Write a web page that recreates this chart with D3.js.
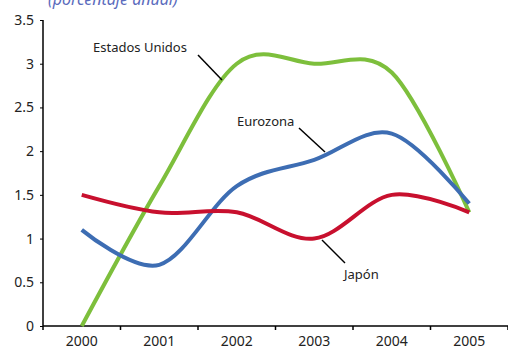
<!DOCTYPE html>
<html>
<head>
<meta charset="utf-8">
<script src="https://cdn.jsdelivr.net/npm/d3@7"></script>
<style>
  body { margin: 0; background: #fff; }
  svg text { font-family: "Noto Sans", sans-serif; fill: #222; }
</style>
</head>
<body>
<svg id="chart" width="508" height="353"></svg>
<script>
const years = ['2000', '2001', '2002', '2003', '2004', '2005'];
const yTicks = [0, 0.5, 1, 1.5, 2, 2.5, 3, 3.5];

const estadosUnidos = [0, 1.6, 3.0, 3.0, 2.9, 1.3];
const eurozona = [1.1, 0.7, 1.6, 1.9, 2.2, 1.4];
const japon = [1.5, 1.3, 1.3, 1.0, 1.5, 1.3];

const series = [
  { name: 'Estados Unidos', values: estadosUnidos, color: '#7dbf3c' },
  { name: 'Eurozona', values: eurozona, color: '#3d6db3' },
  { name: 'Japón', values: japon, color: '#c8102e' }
];

const svg = d3.select('#chart');
const margin = { left: 43, top: 20, right: 0, bottom: 27 };
const width = +svg.attr('width');
const height = +svg.attr('height');

const x = d3.scaleBand()
  .domain(years)
  .range([margin.left, width - margin.right]);

const y = d3.scaleLinear()
  .domain([0, 3.5])
  .range([height - margin.bottom, margin.top]);

// title, mostly clipped at the top (as in the original)
svg.append('text')
  .attr('x', 48)
  .attr('y', 5)
  .attr('font-size', 16)
  .attr('font-style', 'italic')
  .style('fill', '#5b6bbd')
  .text('(porcentaje anual)');

// y axis
const yAxis = svg.append('g')
  .attr('transform', `translate(${margin.left},0)`)
  .call(d3.axisLeft(y).tickValues(yTicks).tickSize(3).tickPadding(6).tickFormat(d3.format('')));
yAxis.select('.domain').attr('stroke-width', 1.5).attr('d', `M0,${y(0)}V${y(3.5)}`);
yAxis.selectAll('text').attr('font-size', 14).style('font-family', '"Noto Sans", sans-serif');

// x axis
const xAxis = svg.append('g')
  .attr('transform', `translate(0,${y(0)})`)
  .call(d3.axisBottom(x).tickSize(0).tickPadding(10));
xAxis.select('.domain').attr('stroke-width', 1.5).attr('d', `M${margin.left},0H${width}`);
xAxis.selectAll('text').attr('font-size', 14).style('font-family', '"Noto Sans", sans-serif');
xAxis.selectAll('.sep')
  .data(years.map(d => x(d)).concat([x(years[5]) + x.bandwidth()]))
  .enter().append('line')
  .attr('x1', d => d).attr('x2', d => d)
  .attr('y1', 0).attr('y2', 4)
  .attr('stroke', '#000').attr('stroke-width', 1.5);

const line = d3.line()
  .x((d, i) => x(years[i]) + x.bandwidth() / 2)
  .y(d => y(d))
  .curve(d3.curveCardinal.tension(0));

svg.selectAll('.serie')
  .data(series)
  .enter().append('path')
  .attr('class', 'serie')
  .attr('d', d => line(d.values))
  .attr('fill', 'none')
  .attr('stroke', d => d.color)
  .attr('stroke-width', 4);

// labels with leader lines
const labels = [
  { text: 'Estados Unidos', tx: 93, ty: 52, l: [198, 55, 222, 80] },
  { text: 'Eurozona', tx: 237, ty: 126, l: [299, 128, 325, 152] },
  { text: 'Japón', tx: 344, ty: 279, l: [322, 240, 345, 263] }
];

svg.selectAll('.leader')
  .data(labels)
  .enter().append('line')
  .attr('x1', d => d.l[0]).attr('y1', d => d.l[1])
  .attr('x2', d => d.l[2]).attr('y2', d => d.l[3])
  .attr('stroke', '#000').attr('stroke-width', 1.5);

svg.selectAll('.lbl')
  .data(labels)
  .enter().append('text')
  .attr('x', d => d.tx)
  .attr('y', d => d.ty)
  .attr('font-size', 13)
  .text(d => d.text);
</script>
</body>
</html>
